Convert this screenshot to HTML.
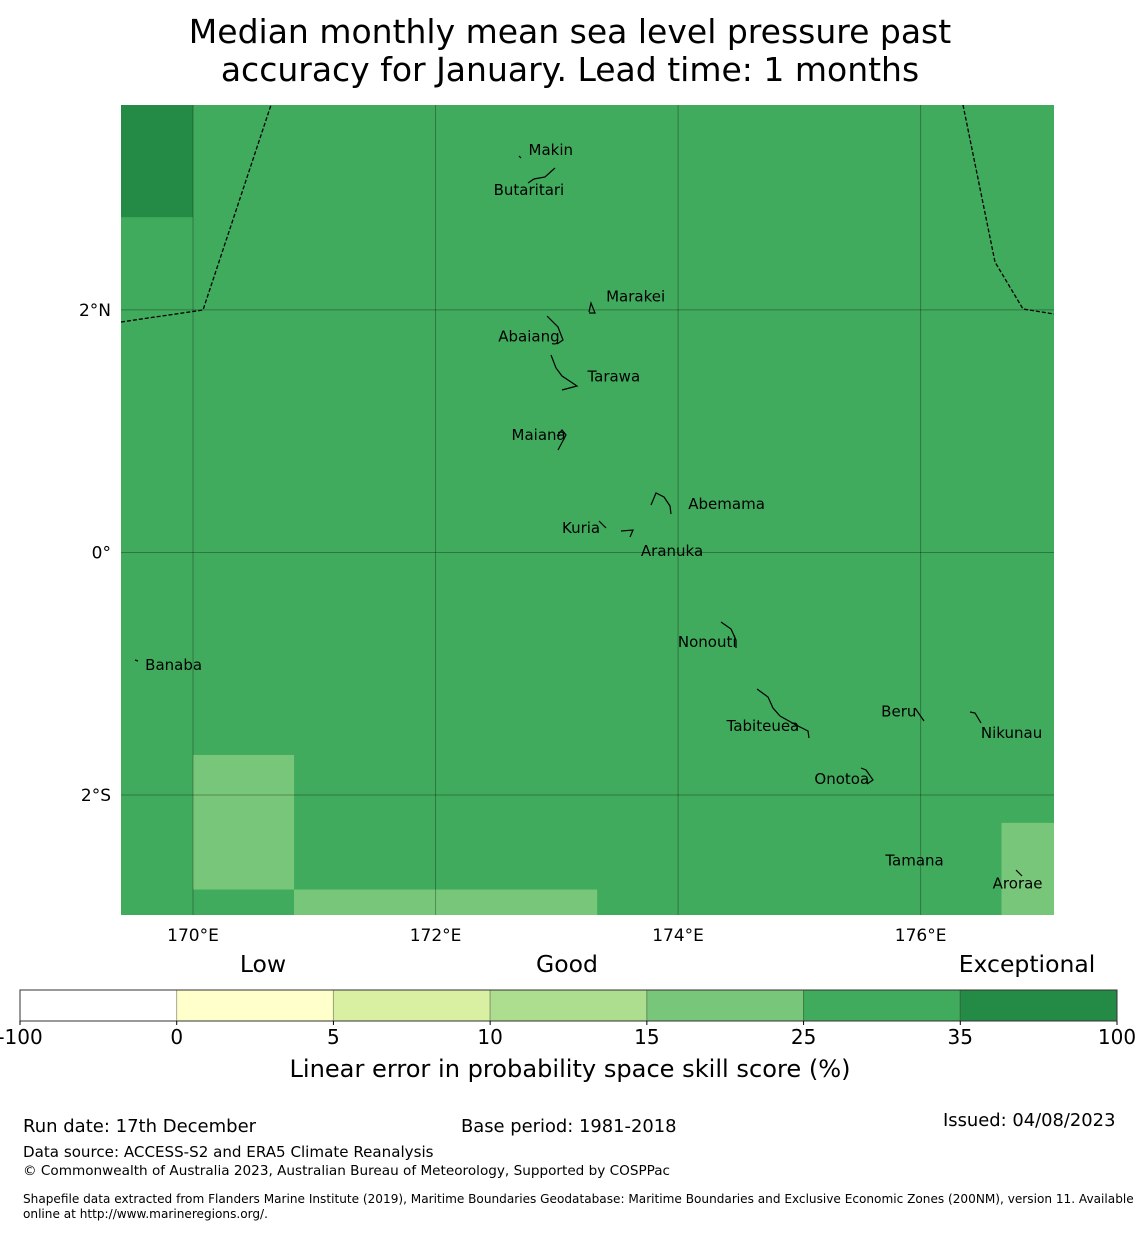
<!DOCTYPE html>
<html><head><meta charset="utf-8"><style>
body{margin:0;background:#fff;font-family:"DejaVu Sans","Liberation Sans",sans-serif;}
svg text{font-family:"DejaVu Sans","Liberation Sans",sans-serif;}
</style></head><body>
<svg id="chart" width="1140" height="1230" viewBox="0 0 1140 1230" xmlns="http://www.w3.org/2000/svg">
<text x="570" y="43" font-size="33" text-anchor="middle">Median monthly mean sea level pressure past</text>
<text x="570" y="81" font-size="33" text-anchor="middle">accuracy for January. Lead time: 1 months</text>
<g id="map"></g>
<g id="cbar"></g>
<text x="23" y="1132" font-size="18">Run date: 17th December</text>
<text x="461" y="1132" font-size="17.9">Base period: 1981-2018</text>
<text x="943" y="1126" font-size="17.9">Issued: 04/08/2023</text>
<text x="23" y="1157" font-size="15.1">Data source: ACCESS-S2 and ERA5 Climate Reanalysis</text>
<text x="23" y="1175" font-size="13.6">© Commonwealth of Australia 2023, Australian Bureau of Meteorology, Supported by COSPPac</text>
<text x="23" y="1203" font-size="12.1">Shapefile data extracted from Flanders Marine Institute (2019), Maritime Boundaries Geodatabase: Maritime Boundaries and Exclusive Economic Zones (200NM), version 11. Available</text>
<text x="23" y="1218" font-size="12.1">online at http://www.marineregions.org/.</text>
</svg>
<script>
// Map extents
const lonMin = 169.406, lonMax = 177.1, latMin = -2.99, latMax = 3.69;
// Skill grid cells (lon0, lon1, lat0, lat1, value %)
const cellLon0 = [169.406, 169.406, 170.0, 170.833, 176.667];
const cellLon1 = [177.1, 170.0, 170.833, 173.333, 177.1];
const cellLat0 = [-2.99, 2.765, -2.78, -2.99, -2.99];
const cellLat1 = [3.69, 3.69, -1.67, -2.78, -2.23];
const cellVal = [30, 40, 20, 20, 20];
const lonTicks = [170, 172, 174, 176];
const lonTickLabels = ["170°E", "172°E", "174°E", "176°E"];
const latTicks = [2, 0, -2];
const latTickLabels = ["2°N", "0°", "2°S"];
const cbBounds = [-100, 0, 5, 10, 15, 25, 35, 100];
const cbColors = ["#ffffff", "#ffffcc", "#d9f0a3", "#addd8e", "#78c679", "#41ab5d", "#238b45"];
const islandNames = ["Makin","Butaritari","Marakei","Abaiang","Tarawa","Maiana","Abemama","Kuria","Aranuka","Nonouti","Banaba","Beru","Tabiteuea","Nikunau","Onotoa","Tamana","Arorae"];
const islandLon = [172.95,172.77,173.65,172.77,173.47,172.85,174.4,173.2,173.95,174.24,169.84,175.82,174.7,176.75,175.35,175.95,176.8];
const islandLat = [3.32,2.99,2.11,1.78,1.45,0.97,0.4,0.2,0.01,-0.74,-0.93,-1.31,-1.43,-1.49,-1.87,-2.54,-2.73];

const NS = "http://www.w3.org/2000/svg";
const X0 = 121, X1 = 1054, Y0 = 105, Y1 = 915;
const xs = lon => X0 + (lon - lonMin) / (lonMax - lonMin) * (X1 - X0);
const ys = lat => Y0 + (latMax - lat) / (latMax - latMin) * (Y1 - Y0);
function colorFor(v){for(let i=0;i<cbColors.length;i++){if(v<cbBounds[i+1])return cbColors[i];}return cbColors[cbColors.length-1];}
function mk(tag, attrs, parent){const e=document.createElementNS(NS,tag);for(const k in attrs)e.setAttribute(k,attrs[k]);parent.appendChild(e);return e;}
const map = document.getElementById("map");
for(let i=0;i<cellVal.length;i++){
  const x=xs(cellLon0[i]), x2=xs(cellLon1[i]), y=ys(cellLat1[i]), y2=ys(cellLat0[i]);
  const r=mk("rect",{x:x,y:y,width:x2-x,height:y2-y,fill:colorFor(cellVal[i])},map);
  
  
}
lonTicks.forEach((t,i)=>{
  const l=mk("line",{x1:xs(t),x2:xs(t),y1:Y0,y2:Y1,stroke:"#000","stroke-opacity":0.3,"stroke-width":1},map);
  
  
  const tx=mk("text",{x:xs(t),y:941,"font-size":17,"text-anchor":"middle"},map);tx.textContent=lonTickLabels[i];
  
  
});
latTicks.forEach((t,i)=>{
  const l=mk("line",{x1:X0,x2:X1,y1:ys(t),y2:ys(t),stroke:"#000","stroke-opacity":0.3,"stroke-width":1},map);
  
  
  const tx=mk("text",{x:111,y:ys(t)+6,"font-size":17,"text-anchor":"end"},map);tx.textContent=latTickLabels[i];
  
  
});
[["121,322 203,310 271,105"],["963,105 995,262 1023,309 1054,314"]].forEach(p=>{
  const pl=mk("polyline",{points:p[0],fill:"none",stroke:"#000","stroke-width":1.3,"stroke-dasharray":"4,2"},map);
  
  
});
const shapes=["519,156 521,158","528,183 534,179 545,177 555,168","589,312 591,303 595,313 589,313","547,316 558,327 563,340 557,344","551,355 556,368 562,376 577,386 562,390","557,436 562,430 566,435 558,450","651,505 656,493 664,497 670,506 671,514","599,521 606,528","621,531 633,530 630,537","721,622 731,629 736,640 736,648","757,689 768,697 773,708 780,716 796,725 808,731 809,738","915,708 924,721","970,712 975,713 981,723","861,768 866,770 873,780 867,784","1016,870 1022,876","135,660 138,661"];
shapes.forEach(p=>{
  const pl=mk("polyline",{points:p,fill:"none",stroke:"#000","stroke-width":1.2},map);
  
  
});
islandNames.forEach((n,i)=>{
  const tx=mk("text",{x:xs(islandLon[i]),y:ys(islandLat[i])+5,"font-size":15,"text-anchor":"middle"},map);tx.textContent=n;
  
  
});
const cb=document.getElementById("cbar");
const CX0=20, CX1=1117, CY=990, CH=31, segW=(CX1-CX0)/cbColors.length;
cbColors.forEach((c,i)=>{
  const r=mk("rect",{x:CX0+i*segW,y:CY,width:segW,height:CH,fill:c,stroke:"#00000040","stroke-width":1},cb);
  
  
});
const ob=mk("rect",{x:CX0,y:CY,width:CX1-CX0,height:CH,fill:"none",stroke:"#333","stroke-width":1},cb);


cbBounds.forEach((b,i)=>{
  const x=CX0+i*segW;
  mk("line",{x1:x,x2:x,y1:CY+CH,y2:CY+CH+4,stroke:"#000"},cb);
  const tx=mk("text",{x:x,y:1044,"font-size":20,"text-anchor":"middle"},cb);tx.textContent=String(b);
  
  
});
[["Low",263],["Good",567],["Exceptional",1027]].forEach(a=>{
  const tx=mk("text",{x:a[1],y:972,"font-size":23.5,"text-anchor":"middle"},cb);tx.textContent=a[0];
  
  
});
const t=mk("text",{x:570,y:1077,"font-size":24.1,"text-anchor":"middle"},cb);t.textContent="Linear error in probability space skill score (%)";


</script>
</body></html>
